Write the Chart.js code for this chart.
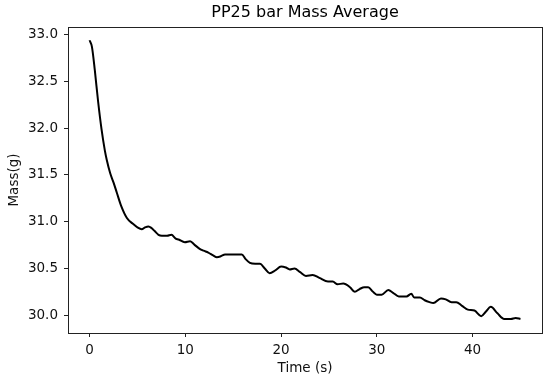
<!DOCTYPE html>
<html>
<head>
<meta charset="utf-8">
<script src="https://cdn.jsdelivr.net/npm/chart.js@4"></script>
<style>
html,body{margin:0;padding:0;background:#fff;}
#wrap{width:550px;height:383px;}
</style>
</head>
<body>
<div id="wrap"><canvas id="c" width="550" height="383"></canvas></div>
<script>
const timeS = [0,0.25,0.55,0.9,1.25,1.6,1.8,2.15,2.5,2.85,3.3,3.9,4.5,5.0,5.45,5.8,6.15,6.5,6.8,7.2,7.55,8.1,8.55,9.0,9.3,9.95,10.5,11.0,11.5,11.9,12.4,12.9,13.3,13.7,14.15,15.0,15.9,16.3,16.75,17.3,17.8,18.3,18.8,19.4,20.0,20.5,20.9,21.4,22.0,22.6,23.3,24.0,24.9,25.4,25.9,26.5,27.2,27.7,28.2,28.7,29.1,29.6,30.0,30.5,31.2,31.7,32.3,33.1,33.6,33.9,34.5,35.0,35.5,35.9,36.7,37.2,37.8,38.3,38.9,39.5,40.2,40.9,41.4,41.9,42.6,43.3,44.0,44.5,45.0];
const massG = [32.94,32.87,32.62,32.28,31.99,31.76,31.66,31.52,31.42,31.31,31.17,31.04,30.98,30.94,30.92,30.94,30.95,30.93,30.90,30.86,30.85,30.85,30.86,30.82,30.81,30.78,30.79,30.75,30.71,30.69,30.67,30.64,30.62,30.63,30.65,30.65,30.65,30.60,30.56,30.55,30.55,30.50,30.45,30.48,30.52,30.51,30.49,30.50,30.46,30.42,30.43,30.40,30.36,30.36,30.33,30.34,30.30,30.25,30.28,30.30,30.30,30.25,30.22,30.22,30.27,30.24,30.20,30.20,30.23,30.19,30.19,30.16,30.14,30.13,30.18,30.17,30.14,30.14,30.10,30.06,30.05,29.99,30.04,30.09,30.02,29.96,29.96,29.97,29.96];
const xTicks = [0,10,20,30,40];
const yTicks = [30.0,30.5,31.0,31.5,32.0,32.5,33.0];
const chartTitle = 'PP25 bar Mass Average';
const xLabel = 'Time (s)';
const yLabel = 'Mass(g)';

const points = timeS.map((t,i)=>({x:t,y:massG[i]}));

const tickFont = {family:'DejaVu Sans', size:13.5};
const frameAxis = (pos, size) => ({
  type:'linear', position:pos, min:0, max:1,
  afterFit(s){ if (pos==='top') s.height = size; else s.width = size; },
  grid:{display:false,drawOnChartArea:false,drawTicks:false},
  border:{display:true,color:'#222',width:1},
  ticks:{display:false}
});
new Chart(document.getElementById('c'), {
  type:'line',
  data:{datasets:[{data:points,borderColor:'#000',borderWidth:2,pointRadius:0,fill:false,cubicInterpolationMode:'monotone'}]},
  options:{
    responsive:false,
    animation:false,
    layout:{padding:{left:0,right:0,top:0,bottom:0}},
    plugins:{
      legend:{display:false},
      tooltip:{enabled:false},
      title:{display:true,text:chartTitle,fullSize:false,color:'#000',font:{family:'DejaVu Sans',size:16,weight:'normal'},padding:{top:3,bottom:4.8}}
    },
    scales:{
      x:{
        type:'linear',min:-2.25,max:47.25,
        afterBuildTicks(s){ s.ticks = xTicks.map(v=>({value:v})); },
        afterFit(s){ s.height = 50; },
        grid:{display:true,drawOnChartArea:false,drawTicks:true,tickLength:4,color:'#222'},
        border:{display:true,color:'#222',width:1},
        ticks:{color:'#111',font:tickFont,padding:5,maxRotation:0,callback:v=>String(v)},
        title:{display:true,text:xLabel,color:'#111',font:tickFont,padding:{top:0,bottom:6}}
      },
      y:{
        type:'linear',min:29.81,max:33.082,
        afterBuildTicks(s){ s.ticks = yTicks.map(v=>({value:v})); },
        afterFit(s){ s.width = 68; },
        grid:{display:true,drawOnChartArea:false,drawTicks:true,tickLength:4,color:'#222'},
        border:{display:true,color:'#222',width:1},
        ticks:{color:'#111',font:tickFont,padding:6,callback:v=>Number(v).toFixed(1)},
        title:{display:true,text:yLabel,color:'#111',font:tickFont,padding:{top:6,bottom:0}}
      },
      xTop: frameAxis('top', 0),
      yRight: frameAxis('right', 8)
    }
  }
});
</script>
</body>
</html>
